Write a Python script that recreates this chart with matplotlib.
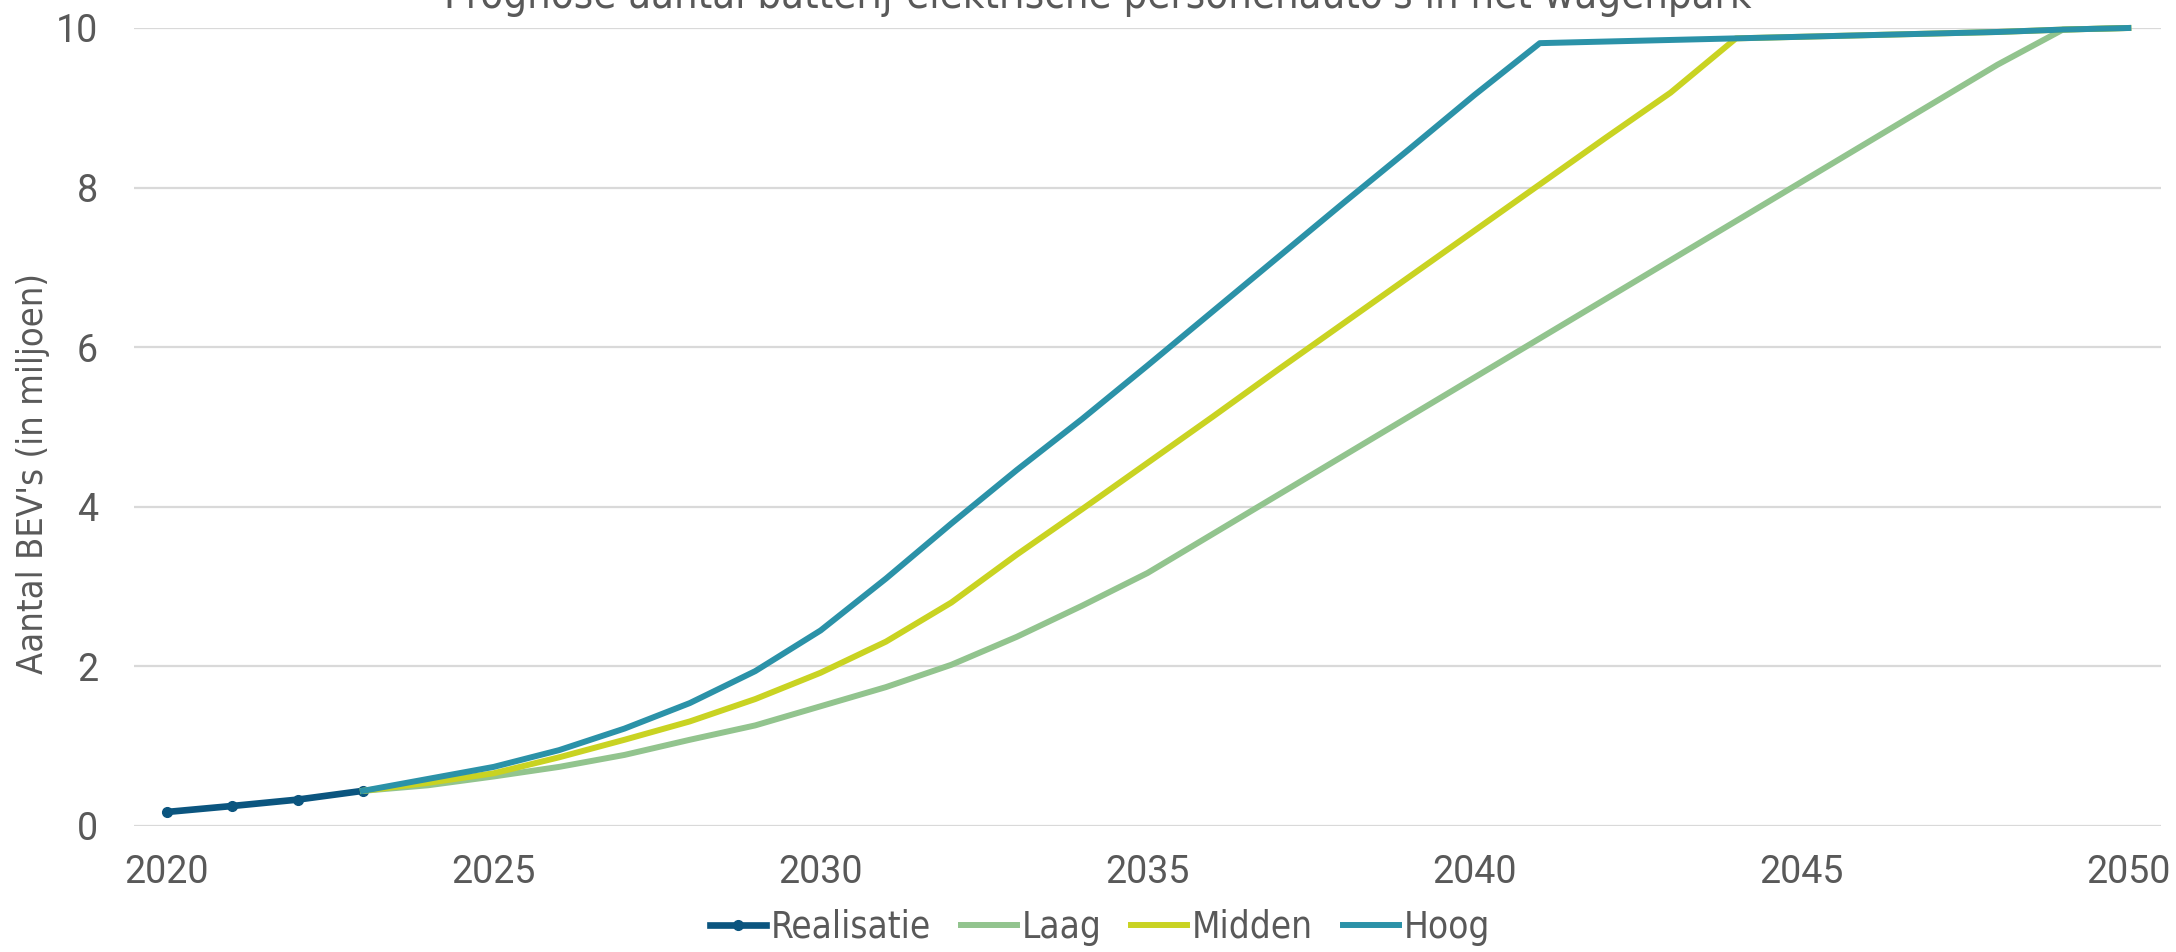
import matplotlib; matplotlib.use('agg')
import matplotlib.pyplot as plt
from matplotlib import font_manager

# Realised fleet size (millions of BEVs) and three forecast scenarios
years_real = [2020, 2021, 2022, 2023]
realisatie = [0.175, 0.25, 0.33, 0.44]

years_scen = list(range(2023, 2051))
laag = [0.44, 0.51, 0.62, 0.74, 0.89, 1.08, 1.26, 1.50, 1.74, 2.02,
        2.37, 2.76, 3.17, 3.66, 4.15, 4.64, 5.13, 5.62, 6.11, 6.60,
        7.09, 7.58, 8.07, 8.56, 9.05, 9.54, 9.98, 10.0]
midden = [0.44, 0.54, 0.66, 0.86, 1.08, 1.31, 1.59, 1.92, 2.31, 2.80,
          3.40, 3.97, 4.55, 5.13, 5.72, 6.30, 6.88, 7.46, 8.04, 8.62,
          9.19, 9.87, 9.89, 9.91, 9.93, 9.95, 9.98, 10.0]
hoog = [0.44, 0.59, 0.74, 0.95, 1.22, 1.54, 1.94, 2.45, 3.10, 3.79,
        4.46, 5.10, 5.77, 6.45, 7.13, 7.81, 8.48, 9.16, 9.81, 9.83,
        9.85, 9.87, 9.89, 9.91, 9.93, 9.95, 9.98, 10.0]

x_ticks = [2020, 2025, 2030, 2035, 2040, 2045, 2050]
y_ticks = [0, 2, 4, 6, 8, 10]

title = "Prognose aantal batterij-elektrische personenauto's in het wagenpark"
ylabel = "Aantal BEV's (in miljoen)"

TEXT = '#595959'
GRID = '#D9D9D9'

# narrow face for title, axis label and legend
narrow = font_manager.FontProperties(family='DejaVu Sans', stretch='condensed')


def narrow_font(size):
    fp = narrow.copy()
    fp.set_size(size)
    return fp


fig = plt.figure(figsize=(21.76, 9.52), dpi=100)
ax = fig.add_axes([0.0616, 0.1324, 0.9315, 0.8382])

ax.plot(years_real, realisatie, color='#0B557F', lw=4.8, marker='o', ms=7,
        label='Realisatie', clip_on=False, zorder=3)
ax.plot(years_scen, laag, color='#92C48E', lw=4.3, label='Laag',
        clip_on=False, zorder=4)
ax.plot(years_scen, midden, color='#C9D322', lw=4.3, label='Midden',
        clip_on=False, zorder=5)
ax.plot(years_scen, hoog, color='#2B92A8', lw=4.3, label='Hoog',
        clip_on=False, zorder=6)

ax.set_xlim(2019.5, 2050.5)
ax.set_ylim(0, 10)
ax.set_xticks(x_ticks)
ax.set_yticks(y_ticks)
ax.grid(axis='y', color=GRID, lw=1.6)
ax.set_axisbelow(True)
for side in ['top', 'right', 'bottom', 'left']:
    ax.spines[side].set_visible(False)
ax.tick_params(length=0, colors=TEXT, labelsize=27)
ax.tick_params(axis='y', pad=26)
ax.tick_params(axis='x', pad=20)
for lbl in ax.get_xticklabels() + ax.get_yticklabels():
    lbl.set_family(['Roboto', 'DejaVu Sans'])

fig.text(0.015, 0.503, ylabel, rotation=90, ha='center', va='center',
         color=TEXT, fontproperties=narrow_font(26))
fig.text(0.5046, 0.9916, title, ha='center', va='baseline',
         color=TEXT, fontproperties=narrow_font(30))

leg = fig.legend(loc='center', bbox_to_anchor=(0.5055, 0.026), ncol=4,
                 frameon=False, handlelength=1.52, handletextpad=0.12,
                 columnspacing=0.82, prop=narrow_font(26.5))
for t in leg.get_texts():
    t.set_color(TEXT)

fig.savefig('out.png', dpi=100)
